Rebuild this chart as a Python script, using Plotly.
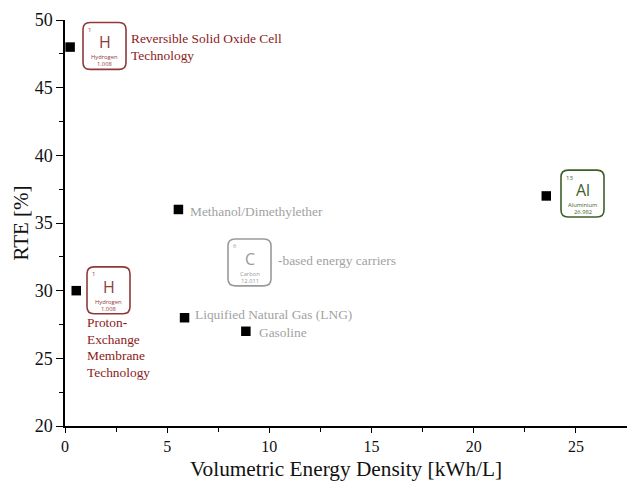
import plotly.graph_objects as go

x_vals = [0.25, 0.55, 5.55, 5.85, 8.85, 23.55]
y_vals = [48, 30, 36, 28, 27, 37]
x_ticks = [0, 5, 10, 15, 20, 25]
y_ticks = [20, 25, 30, 35, 40, 45, 50]
x_title = "Volumetric Energy Density [kWh/L]"
y_title = "RTE [%]"

W, H = 627, 481
ML, MR, MT, MB = 65, 0, 19.5, 54.5
SERIF = "Liberation Serif"
SANS = "Open Sans"
RED = "#8b1a1a"
REDBOX = "#8f3a3a"
GREY = "#9a9a9a"
GREYTEXT = "#a2a2a2"
GREEN = "#3f5f2a"

def px(x):
    return (x - ML) / (W - ML - MR)

def py(y):
    return 1 - (y - MT) / (H - MT - MB)

# element tiles: left, top, number, symbol, name, mass, colour
tiles = [
    (83, 22, "1", "H", "Hydrogen", "1.008", REDBOX),
    (87, 267, "1", "H", "Hydrogen", "1.008", REDBOX),
    (228, 239, "6", "C", "Carbon", "12.011", GREY),
    (561, 170, "13", "Al", "Aluminium", "26.982", GREEN),
]
# free labels: left, centre y, text, colour
labels = [
    (129.5, 38.5, "Reversible Solid Oxide Cell", RED),
    (129.5, 55, "Technology", RED),
    (86, 323, "Proton<b>-</b>", RED),
    (86, 339.5, "Exchange", RED),
    (86, 356, "Membrane", RED),
    (86, 372.5, "Technology", RED),
    (189, 211, "Methanol/Dimethylether", GREYTEXT),
    (277, 261, "<b>-</b>based energy carriers", GREYTEXT),
    (194, 314.5, "Liquified Natural Gas (LNG)", GREYTEXT),
    (258, 332.5, "Gasoline", GREYTEXT),
]

fig = go.Figure(go.Scatter(
    x=x_vals, y=y_vals, mode="markers",
    marker=dict(symbol="square", size=9.5, color="black"),
    cliponaxis=False, showlegend=False,
))

shapes, annos = [], []

def text(x, y, s, size, color, family, anchor="left"):
    annos.append(dict(
        xref="paper", yref="paper", x=px(x), y=py(y), text=s, showarrow=False,
        xanchor=anchor, yanchor="middle", borderpad=0,
        font=dict(size=size, color=color, family=family),
    ))

for left, top, num, sym, name, mass, col in tiles:
    w, h, r = 43, 47, 7
    x0, x1, y0, y1 = left, left + w, top, top + h
    pts = [
        f"M {px(x0 + r)} {py(y0)}",
        f"L {px(x1 - r)} {py(y0)}",
        f"Q {px(x1)} {py(y0)} {px(x1)} {py(y0 + r)}",
        f"L {px(x1)} {py(y1 - r)}",
        f"Q {px(x1)} {py(y1)} {px(x1 - r)} {py(y1)}",
        f"L {px(x0 + r)} {py(y1)}",
        f"Q {px(x0)} {py(y1)} {px(x0)} {py(y1 - r)}",
        f"L {px(x0)} {py(y0 + r)}",
        f"Q {px(x0)} {py(y0)} {px(x0 + r)} {py(y0)}",
        "Z",
    ]
    shapes.append(dict(type="path", xref="paper", yref="paper", path=" ".join(pts),
                       line=dict(color=col, width=1.6), fillcolor="rgba(0,0,0,0)"))
    text(left + 4, top + 7.5, num, 6, col, SANS)
    text(left + w / 2, top + 20, sym, 16, col, SANS, "center")
    text(left + w / 2, top + 35, name, 5.8, col, SANS, "center")
    text(left + w / 2, top + 42, mass, 5.8, col, SANS, "center")

for x, y, s, col in labels:
    text(x, y, s, 13.4, col, SERIF)

axis = dict(showgrid=False, zeroline=False, showline=True, linecolor="black", linewidth=1.5,
            ticks="outside", tickcolor="black", tickwidth=1.2, mirror=False)

fig.update_layout(
    width=W, height=H, margin=dict(l=ML, r=MR, t=MT, b=MB, pad=0),
    paper_bgcolor="white", plot_bgcolor="white",
    font=dict(family=SERIF, color="#111111"),
    shapes=shapes, annotations=annos,
    xaxis=dict(axis, range=[0, 27.5], tickvals=x_ticks, ticklen=5,
               tickfont=dict(size=16),
               minor=dict(dtick=2.5, tick0=0, ticks="outside", ticklen=4, tickcolor="black", tickwidth=1.2),
               title=dict(text=x_title, font=dict(size=21.3), standoff=12)),
    yaxis=dict(axis, range=[20, 50], tickvals=y_ticks, ticklen=7,
               tickfont=dict(size=18),
               minor=dict(dtick=2.5, tick0=20, ticks="outside", ticklen=4, tickcolor="black", tickwidth=1.2),
               title=dict(text=y_title, font=dict(size=21), standoff=0)),
)

fig.write_html("out.html", config=dict(displayModeBar=False),
               post_script="document.body.style.margin='0';")
